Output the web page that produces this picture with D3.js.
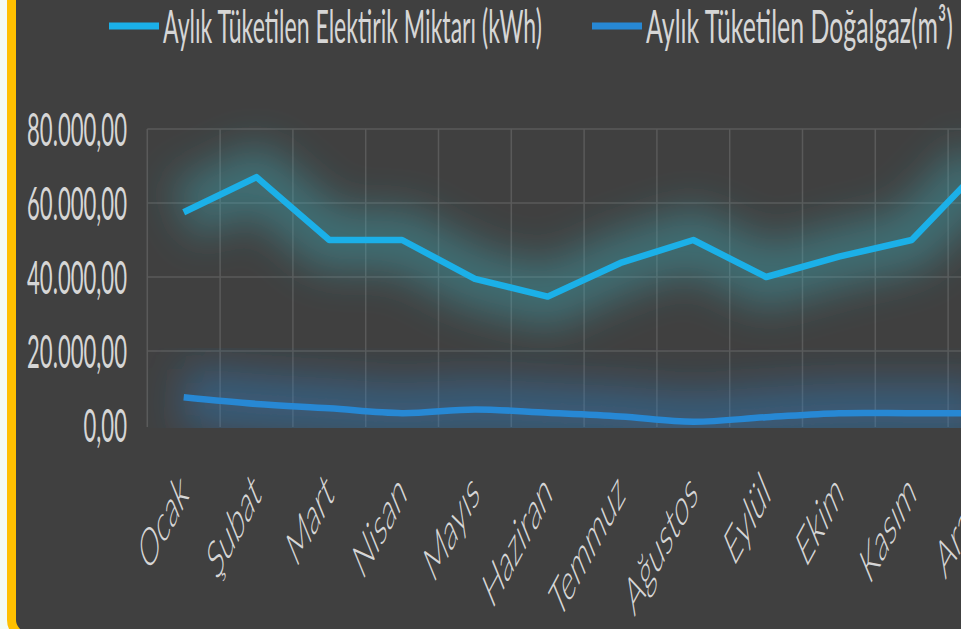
<!DOCTYPE html>
<html><head><meta charset="utf-8">
<script src="https://cdn.jsdelivr.net/npm/d3@7"></script>
<style>
html,body{margin:0;padding:0;background:#f3fbf4;overflow:hidden}
svg{display:block}
text{font-family:Lato,"DejaVu Sans",sans-serif;font-weight:400;fill:#d6d6d6}
</style></head><body>
<svg id="chart" width="961" height="629"></svg>
<script>
// ---- data ----
const months = ["Ocak","Şubat","Mart","Nisan","Mayıs","Haziran","Temmuz","Ağustos","Eylül","Ekim","Kasım","Aralık"];
const electricity = [57500,67000,50000,50000,39500,34700,43800,50000,40000,45500,50000,70500];
const naturalGas = [7500,5700,4500,3200,4200,3300,2300,900,2100,3200,3200,3200];
const yTicks = [0,20000,40000,60000,80000];
const seriesNames = ["Aylık Tüketilen Elektirik Miktarı (kWh)","Aylık Tüketilen Doğalgaz(m³)"];

// ---- layout / style ----
const W = 961, H = 629;
const plot = {left:147.3, top:129, bottom:425, band:72.8};
const colors = ["#1bb0e8","#2788d4"];
const glowColors = ["#3fb4c4","#2f86cc"];
const FONT = 47;

const svg = d3.select("#chart");
const fmt = d3.formatLocale({decimal:",", thousands:".", grouping:[3], currency:["","₺"]}).format(",.2f");

// measure natural text width to derive the horizontal compression
function measure(str, size){
  const t = svg.append("text").style("font-size",size+"px").text(str);
  const w = t.node().getComputedTextLength(); t.remove(); return w;
}
const SX = 100 / measure(fmt(80000), FONT);

const defs = svg.append("defs");
defs.append("filter").attr("id","glow").attr("x","-30%").attr("y","-200%").attr("width","160%").attr("height","500%")
  .append("feGaussianBlur").attr("stdDeviation",20);
defs.append("clipPath").attr("id","plotclip").append("rect")
  .attr("x",plot.left).attr("y",70).attr("width",W).attr("height",428-70);

// background frame
svg.append("rect").attr("x",11.5).attr("y",-30).attr("width",1100).attr("height",666)
  .attr("rx",16).attr("fill","#404040").attr("stroke","#ffc000").attr("stroke-width",9);

const x = d3.scaleBand().domain(months).range([plot.left, plot.left + plot.band*months.length]).padding(0);
const y = d3.scaleLinear().domain([0,80000]).range([plot.bottom, plot.top]);
const cx = m => x(m) + x.bandwidth()/2;

// gridlines
const grid = svg.append("g").attr("stroke","#5a5a5a").attr("stroke-width",1.5);
grid.selectAll("line.h").data(yTicks.filter(v=>v>0)).join("line").attr("class","h")
  .attr("x1",plot.left).attr("x2",W).attr("y1",d=>y(d)).attr("y2",d=>y(d));
const bounds = months.map(m=>x(m)).concat([x(months[months.length-1])+x.bandwidth()]);
grid.selectAll("line.v").data(bounds).join("line").attr("class","v")
  .attr("x1",d=>d).attr("x2",d=>d).attr("y1",plot.top).attr("y2",427);

// series
const series = [
  {values: electricity, color: colors[0], glow: glowColors[0], curve: d3.curveLinear, glowOp: 0.4},
  {values: naturalGas, color: colors[1], glow: glowColors[1], curve: d3.curveCatmullRom.alpha(0.5), glowOp: 0.42}
];
const glowG = svg.append("g").attr("clip-path","url(#plotclip)");
series.forEach(s=>{
  const line = d3.line().x((d,i)=>cx(months[i])).y(d=>y(d)).curve(s.curve);
  glowG.append("path").attr("d",line(s.values)).attr("fill","none")
    .attr("stroke",s.glow).attr("stroke-width",60).attr("stroke-opacity",s.glowOp)
    .attr("stroke-linejoin","round").attr("filter","url(#glow)");
});
series.forEach(s=>{
  const line = d3.line().x((d,i)=>cx(months[i])).y(d=>y(d)).curve(s.curve);
  svg.append("path").attr("d",line(s.values)).attr("fill","none")
    .attr("stroke",s.color).attr("stroke-width",6.5).attr("stroke-linejoin","round");
});

// y axis
const yAxis = svg.append("g").attr("transform","translate(127,0)")
  .call(d3.axisLeft(y).tickValues(yTicks).tickFormat(fmt).tickSize(0).tickPadding(0));
yAxis.select(".domain").remove();
yAxis.selectAll("text").attr("x",0).attr("dy","0.36em").attr("transform",`scale(${SX},1)`)
  .attr("fill","#d6d6d6").style("font-size",FONT+"px").style("font-family","Lato,'DejaVu Sans',sans-serif");

// x axis
const xAxis = svg.append("g").attr("transform",`translate(0,${plot.bottom})`)
  .call(d3.axisBottom(x).tickSize(0).tickPadding(0));
xAxis.select(".domain").remove();
xAxis.selectAll("text").attr("y",0).attr("dy",0).attr("text-anchor","end")
  .attr("transform",`translate(6,72) scale(${SX},1) rotate(-41)`)
  .attr("fill","#d6d6d6").style("font-size","53px").style("font-weight",300)
  .style("font-family","Lato,'DejaVu Sans',sans-serif");

// legend
const legendPos = [{x1:109,x2:159,tx:163,w:379},{x1:592,x2:642,tx:646,w:307}];
seriesNames.forEach((name,i)=>{
  const p = legendPos[i];
  svg.append("line").attr("x1",p.x1).attr("x2",p.x2).attr("y1",26).attr("y2",26)
    .attr("stroke",colors[i]).attr("stroke-width",7);
  const sx = p.w / measure(name, FONT);
  svg.append("text").attr("transform",`translate(${p.tx},43) scale(${sx},1)`)
    .style("font-size",FONT+"px").text(name);
});
</script>
</body></html>
